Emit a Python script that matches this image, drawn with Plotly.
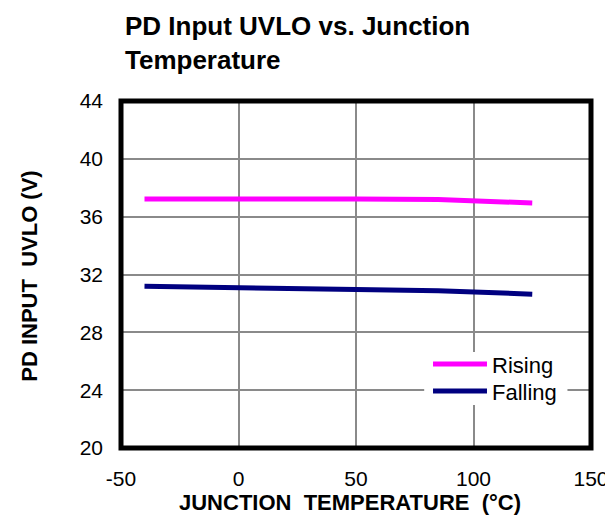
import plotly.graph_objects as go

# Data
temperature_c = [-40, 0, 25, 50, 85, 100, 125]
rising_v = [37.22, 37.24, 37.24, 37.22, 37.18, 37.10, 36.95]
falling_v = [31.19, 31.05, 31.00, 30.96, 30.88, 30.78, 30.64]

x_ticks = [-50, 0, 50, 100, 150]
x_tick_text = ["-50", "0", "50", "100", "150"]
y_ticks = [20, 24, 28, 32, 36, 40, 44]

series_names = ["Rising", "Falling"]
series_colors = ["#FF00FF", "#000080"]

FONT = "Arial, Liberation Sans, sans-serif"

fig = go.Figure()
for name, vals, col in zip(series_names, [rising_v, falling_v], series_colors):
    fig.add_trace(go.Scatter(x=temperature_c, y=vals, mode="lines", name=name,
                             line=dict(color=col, width=5), showlegend=False))

W, H = 613, 515
L, R, T, B = 113, 21, 93, 75
pw, ph = W - L - R, H - T - B

def px_x(x):
    return (x - L) / pw

def px_y(y):
    return (H - B - y) / ph

fig.update_layout(
    width=W, height=H,
    margin=dict(l=L, r=R, t=T, b=B),
    paper_bgcolor="white", plot_bgcolor="white",
    font=dict(family=FONT, color="black", size=22),
)
fig.update_xaxes(range=[-50, 150], tickvals=x_ticks, ticktext=x_tick_text, showgrid=True,
                 gridcolor="#8a8a8a", gridwidth=1.6, zeroline=False,
                 showline=False, ticks="", ticklabelstandoff=16,
                 tickfont=dict(size=21, family=FONT))
fig.update_yaxes(range=[20, 44], tickvals=y_ticks, showgrid=True,
                 gridcolor="#8a8a8a", gridwidth=1.6, zeroline=False,
                 showline=False, ticks="", ticklabelstandoff=17,
                 tickfont=dict(size=21, family=FONT))

shapes = []
# legend background
shapes.append(dict(type="rect", xref="paper", yref="paper",
                   x0=px_x(422), x1=px_x(568), y0=px_y(397), y1=px_y(344),
                   fillcolor="white", line=dict(width=0), layer="above"))
leg_y = [356, 383]
for name, col, ly in zip(series_names, series_colors, leg_y):
    shapes.append(dict(type="line", xref="paper", yref="paper",
                       x0=px_x(431), x1=px_x(486), y0=px_y(ly), y1=px_y(ly),
                       line=dict(color=col, width=5), layer="above"))
# plot border
shapes.append(dict(type="rect", xref="paper", yref="paper", x0=0, x1=1, y0=0, y1=1,
                   line=dict(color="black", width=5), layer="above"))
fig.update_layout(shapes=shapes)

annotations = []
for name, ly in zip(series_names, leg_y):
    annotations.append(dict(text=name, xref="paper", yref="paper", x=px_x(489), y=px_y(ly + 1),
                            xanchor="left", yanchor="middle", showarrow=False,
                            font=dict(size=22, family=FONT)))
annotations.append(dict(text="<b>PD Input UVLO vs. Junction<br>Temperature</b>", xref="paper", yref="paper",
                        x=px_x(115), y=px_y(35), xanchor="left", yanchor="middle", align="left",
                        showarrow=False, font=dict(size=26, family=FONT)))
annotations.append(dict(text="<b>PD INPUT\u00a0 UVLO (V)</b>", xref="paper", yref="paper",
                        x=px_x(19), y=px_y(268), xanchor="center", yanchor="middle",
                        textangle=-90, showarrow=False, font=dict(size=22, family=FONT)))
annotations.append(dict(text="<b>JUNCTION\u00a0 TEMPERATURE\u00a0 (\u00b0C)</b>", xref="paper", yref="paper",
                        x=px_x(346), y=px_y(494), xanchor="center", yanchor="middle",
                        showarrow=False, font=dict(size=22, family=FONT)))
fig.update_layout(annotations=annotations)

fig.write_html("out.html")
